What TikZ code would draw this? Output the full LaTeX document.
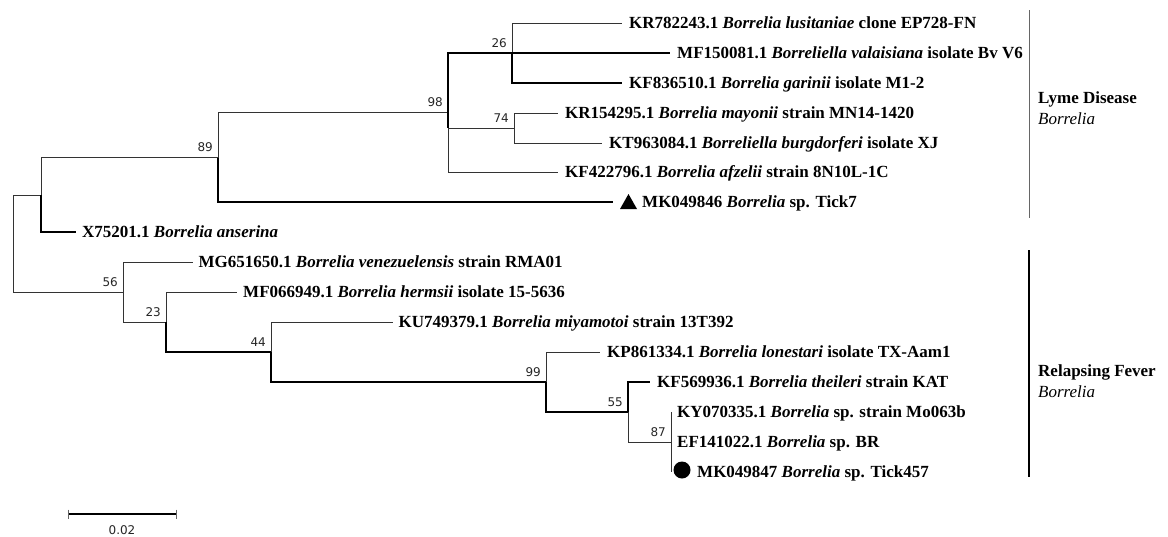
\documentclass[tikz,border=0pt]{standalone}
\usepackage{fontspec}
\setmainfont{Liberation Serif}
\newfontfamily\numfont{DejaVu Sans}
\begin{document}
\begin{tikzpicture}[x=1pt, y=-1pt,
    rama/.style={line width=0.9pt, black!80},
    ramag/.style={line width=1.7pt, black},
    hoja/.style={anchor=base west, inner sep=0pt, font=\fontsize{17}{20}\selectfont\bfseries},
    boot/.style={anchor=base east, inner sep=0pt, font=\numfont\fontsize{12}{14}\selectfont, black!85},
    grupo/.style={anchor=west, inner sep=0pt, align=left, font=\fontsize{17}{21}\selectfont}]

    \useasboundingbox (0,0) rectangle (1168,536);

    % 1. Nodos internos del arbol
    \coordinate (raiz) at (13,243.5);
    \coordinate (nA) at (41,195);
    \coordinate (n89) at (218,157.5);
    \coordinate (n98) at (448,112.5);
    \coordinate (n26) at (512,53);
    \coordinate (n74) at (514,128);
    \coordinate (n56) at (123,292);
    \coordinate (n23) at (166,322);
    \coordinate (n44) at (271,352);
    \coordinate (n99) at (546,382);
    \coordinate (n55) at (628,412);
    \coordinate (n87) at (671,442);

    % 2. Hojas (fin de cada rama)
    \coordinate (kr782) at (622,23);
    \coordinate (mf150) at (670,53);
    \coordinate (kf836) at (622,83);
    \coordinate (kr154) at (558,113);
    \coordinate (kt963) at (602,143);
    \coordinate (kf422) at (558,172);
    \coordinate (mk846) at (613,202);
    \coordinate (x752) at (76,232);
    \coordinate (mg651) at (193,262);
    \coordinate (mf066) at (237,292);
    \coordinate (ku749) at (393,322);
    \coordinate (kp861) at (600,352);
    \coordinate (kf569) at (650,382);
    \coordinate (ky070) at (671,412);
    \coordinate (ef141) at (671,442);
    \coordinate (mk847) at (671,472);

    % 3. Ramas
    \draw[rama] (raiz) |- (nA);
    \draw[rama] (raiz) |- (n56);
    \draw[rama] (nA) |- (n89);
    \draw[ramag] (nA) |- (x752);
    \draw[rama] (n89) |- (n98);
    \draw[ramag] (n89) |- (mk846);
    \draw[ramag] (n98) |- (n26);
    \draw[rama] (n98) |- (n74);
    \draw[rama] (n98) |- (kf422);
    \draw[ramag] (n98) -- (n98 |- n74);
    \draw[rama] (n26) |- (kr782);
    \draw[ramag] (n26) -- (mf150);
    \draw[ramag] (n26) |- (kf836);
    \draw[rama] (n74) |- (kr154);
    \draw[rama] (n74) |- (kt963);
    \draw[rama] (n56) |- (mg651);
    \draw[rama] (n56) |- (n23);
    \draw[rama] (n23) |- (mf066);
    \draw[ramag] (n23) |- (n44);
    \draw[rama] (n44) |- (ku749);
    \draw[ramag] (n44) |- (n99);
    \draw[rama] (n99) |- (kp861);
    \draw[ramag] (n99) |- (n55);
    \draw[ramag] (n55) |- (kf569);
    \draw[rama] (n55) |- (n87);
    \draw[rama] (n87) |- (ky070);
    \draw[rama] (n87) |- (mk847);

    % 4. Valores de bootstrap
    \node[boot] (b89) at ([shift={(-5,-6)}]n89) {89};
    \node[boot] (b98) at ([shift={(-5,-6)}]n98) {98};
    \node[boot] (b26) at ([shift={(-5,-6)}]n26) {26};
    \node[boot] (b74) at ([shift={(-5,-6)}]n74) {74};
    \node[boot] (b56) at ([shift={(-5,-6)}]n56) {56};
    \node[boot] (b23) at ([shift={(-5,-6)}]n23) {23};
    \node[boot] (b44) at ([shift={(-5,-6)}]n44) {44};
    \node[boot] (b99) at ([shift={(-5,-6)}]n99) {99};
    \node[boot] (b55) at ([shift={(-5,-6)}]n55) {55};
    \node[boot] (b87) at ([shift={(-5,-6)}]n87) {87};

    % 5. Etiquetas de las secuencias
    \node[hoja] (t-kr782) at ([shift={(7,5.6)}]kr782) {KR782243.1 \textit{Borrelia lusitaniae} clone EP728-FN};
    \node[hoja] (t-mf150) at ([shift={(7,5.6)}]mf150) {MF150081.1 \textit{Borreliella valaisiana} isolate Bv V6};
    \node[hoja] (t-kf836) at ([shift={(7,5.6)}]kf836) {KF836510.1 \textit{Borrelia garinii} isolate M1-2};
    \node[hoja] (t-kr154) at ([shift={(7,5.6)}]kr154) {KR154295.1 \textit{Borrelia mayonii} strain MN14-1420};
    \node[hoja] (t-kt963) at ([shift={(7,5.6)}]kt963) {KT963084.1 \textit{Borreliella burgdorferi} isolate XJ};
    \node[hoja] (t-kf422) at ([shift={(7,5.6)}]kf422) {KF422796.1 \textit{Borrelia afzelii} strain 8N10L-1C};
    \fill ([shift={(7,7)}]mk846) -- ++(17,0) -- ++(-8.5,-15) -- cycle;
    \node[hoja] (t-mk846) at ([shift={(29,5.6)}]mk846) {MK049846 \textit{Borrelia} sp. Tick7};
    \node[hoja] (t-x752) at ([shift={(6,5.6)}]x752) {X75201.1 \textit{Borrelia anserina}};
    \node[hoja] (t-mg651) at ([shift={(5.5,5.6)}]mg651) {MG651650.1 \textit{Borrelia venezuelensis} strain RMA01};
    \node[hoja] (t-mf066) at ([shift={(6,5.6)}]mf066) {MF066949.1 \textit{Borrelia hermsii} isolate 15-5636};
    \node[hoja] (t-ku749) at ([shift={(5.5,5.6)}]ku749) {KU749379.1 \textit{Borrelia miyamotoi} strain 13T392};
    \node[hoja] (t-kp861) at ([shift={(7,5.6)}]kp861) {KP861334.1 \textit{Borrelia lonestari} isolate TX-Aam1};
    \node[hoja] (t-kf569) at ([shift={(7,5.6)}]kf569) {KF569936.1 \textit{Borrelia theileri} strain KAT};
    \node[hoja] (t-ky070) at ([shift={(6,5.6)}]ky070) {KY070335.1 \textit{Borrelia} sp. strain Mo063b};
    \node[hoja] (t-ef141) at ([shift={(6,5.6)}]ef141) {EF141022.1 \textit{Borrelia} sp. BR};
    \fill ([shift={(11,-2)}]mk847) circle (8.5);
    \node[hoja] (t-mk847) at ([shift={(26,5.6)}]mk847) {MK049847 \textit{Borrelia} sp. Tick457};

    % 6. Grupos a la derecha
    \coordinate (lyme0) at (1029,10);
    \coordinate (lyme1) at (1029,218);
    \coordinate (rf0) at (1029,250);
    \coordinate (rf1) at (1029,477);
    \draw[rama, black!60] (lyme0) -- (lyme1);
    \draw[ramag] (rf0) -- (rf1);
    \node[grupo] (lyme) at (1038,108) {\textbf{Lyme Disease}\\\textit{Borrelia}};
    \node[grupo] (rf) at (1038,381) {\textbf{Relapsing Fever}\\\textit{Borrelia}};

    % 7. Barra de escala
    \coordinate (esc0) at (68,514);
    \coordinate (esc1) at (176,514);
    \draw[ramag, line width=1.2pt] (esc0) -- (esc1);
    \draw[rama, black!60] ([yshift=4.5pt]esc0) -- ([yshift=-4.5pt]esc0);
    \draw[rama, black!60] ([yshift=4.5pt]esc1) -- ([yshift=-4.5pt]esc1);
    \node[boot, anchor=center] (escala) at (122,530) {0.02};
\end{tikzpicture}
\end{document}
